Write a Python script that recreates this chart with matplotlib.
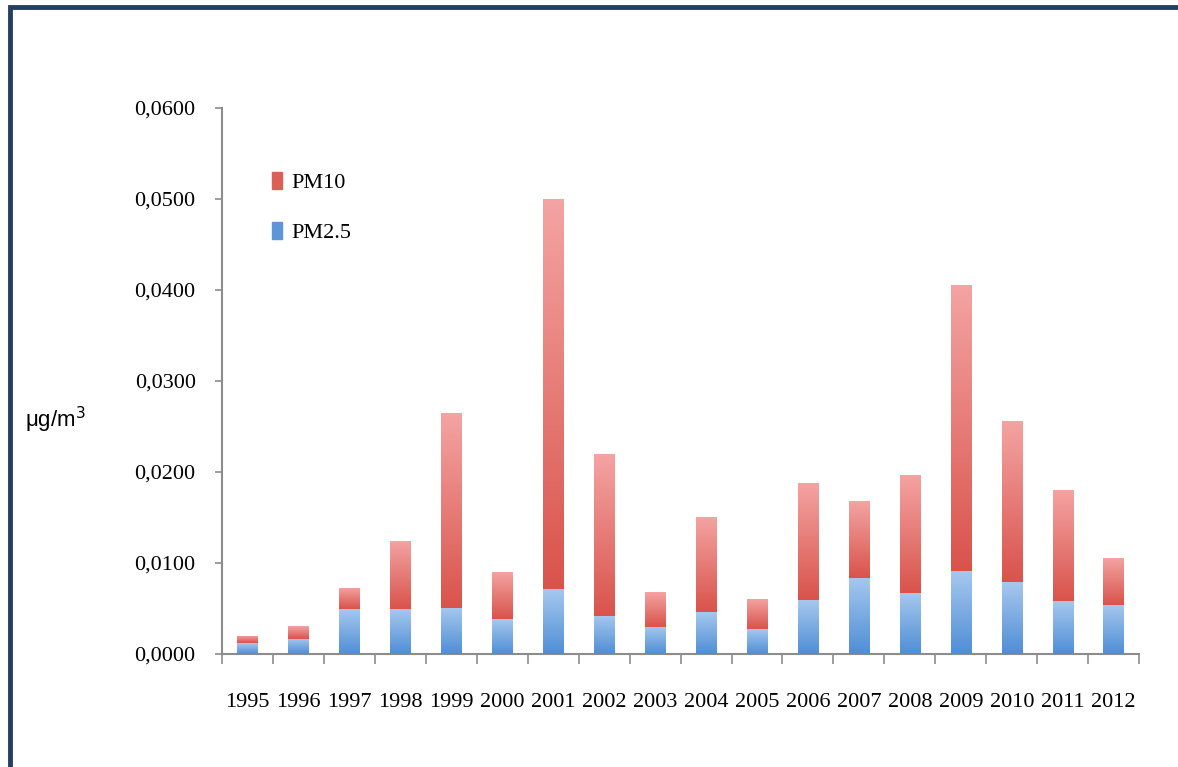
import numpy as np
import matplotlib
matplotlib.use("Agg")
import matplotlib.pyplot as plt
from matplotlib import font_manager
from matplotlib.colors import LinearSegmentedColormap
from matplotlib.patches import Patch, Rectangle
from matplotlib.ticker import FuncFormatter, FixedLocator

years = ['1995', '1996', '1997', '1998', '1999', '2000', '2001', '2002', '2003',
         '2004', '2005', '2006', '2007', '2008', '2009', '2010', '2011', '2012']
pm25 = [0.0012, 0.0017, 0.0049, 0.0049, 0.0051, 0.0038, 0.0071, 0.0042, 0.0030,
        0.0046, 0.0027, 0.0059, 0.0084, 0.0067, 0.0091, 0.0079, 0.0058, 0.0054]
pm10_total = [0.0020, 0.0031, 0.0073, 0.0124, 0.0265, 0.0090, 0.0500, 0.0220, 0.0068,
              0.0151, 0.0060, 0.0188, 0.0168, 0.0197, 0.0406, 0.0256, 0.0180, 0.0106]
pm10 = [t - b for t, b in zip(pm10_total, pm25)]

# condensed serif if there is one, else Liberation Serif
names = {f.name for f in font_manager.fontManager.ttflist}
serif = 'DejaVu Serif Condensed' if 'DejaVu Serif Condensed' in names else 'Liberation Serif'
fs = 16 if serif == 'Liberation Serif' else 17

fig = plt.figure(figsize=[11.78, 7.67], dpi=100)
ax = fig.add_axes([0.1885, 0.1473, 0.7785, 0.7119])

X = np.arange(len(years))
b_blue = ax.bar(X, pm25, width=0.4, color='#6a9fdc', linewidth=0, zorder=2)
b_red = ax.bar(X, pm10, bottom=pm25, width=0.4, color='#e0716a', linewidth=0, zorder=2)

# vertical gradient inside each bar (dark at bottom, light at top)
cm_red = LinearSegmentedColormap.from_list('r', ['#d9534b', '#f4a4a3'])
cm_blue = LinearSegmentedColormap.from_list('b', ['#4f8ed6', '#a6c8ee'])
grad = np.linspace(0, 1, 256).reshape(-1, 1)
for bars, cm in ((b_blue, cm_blue), (b_red, cm_red)):
    for p in bars:
        x0, y0 = p.get_x(), p.get_y()
        w, h = p.get_width(), p.get_height()
        im = ax.imshow(grad, cmap=cm, origin='lower', aspect='auto',
                       extent=[x0, x0 + w, y0, y0 + h], zorder=3)
        im.set_clip_path(p)

ax.set_xlim(-0.5, len(years) - 0.5)
ax.set_ylim(0, 0.06)
ax.set_yticks(np.arange(0, 0.0601, 0.01))
ax.yaxis.set_major_formatter(FuncFormatter(lambda v, pos: f"{v:.4f}".replace('.', ',')))

ax.xaxis.set_major_locator(FixedLocator(np.arange(len(years) + 1) - 0.5))
ax.xaxis.set_major_formatter(FuncFormatter(lambda v, pos: ''))
ax.xaxis.set_minor_locator(FixedLocator(X))
ax.set_xticklabels(years, minor=True)

for s in ('top', 'right'):
    ax.spines[s].set_visible(False)
for s in ('left', 'bottom'):
    ax.spines[s].set_color('#8c8c8c')
    ax.spines[s].set_linewidth(1.5)

ax.tick_params(axis='y', which='major', length=5, width=1.2, color='#8c8c8c',
               direction='out', pad=14, labelsize=fs, labelfontfamily=serif)
ax.tick_params(axis='x', which='major', length=7, width=1.2, color='#8c8c8c', direction='out')
ax.tick_params(axis='x', which='minor', length=0, pad=28, labelsize=fs,
               labelfontfamily=serif)

handles = [Patch(color='#db5e57'), Patch(color='#5d95d8')]
ax.legend(handles, ['PM10', 'PM2.5'], loc='upper left', bbox_to_anchor=(0.033, 0.92),
          frameon=False, handlelength=0.45, handleheight=0.8, handletextpad=0.4,
          labelspacing=1.3, prop={'family': serif, 'size': fs})

fig.text(25 / 1178, 1 - 420 / 767, r'μg/m$^3$', fontsize=16, va='center', ha='left',
         family='Liberation Sans')

# dark blue frame (only top and left edges visible)
fig.patches.append(Rectangle((10 / 1178, -0.1), 1.2, 1.1 - 7 / 767, transform=fig.transFigure,
                             fill=False, edgecolor='#243f60', linewidth=3.5, zorder=10))

fig.savefig('out.png', dpi=100)
